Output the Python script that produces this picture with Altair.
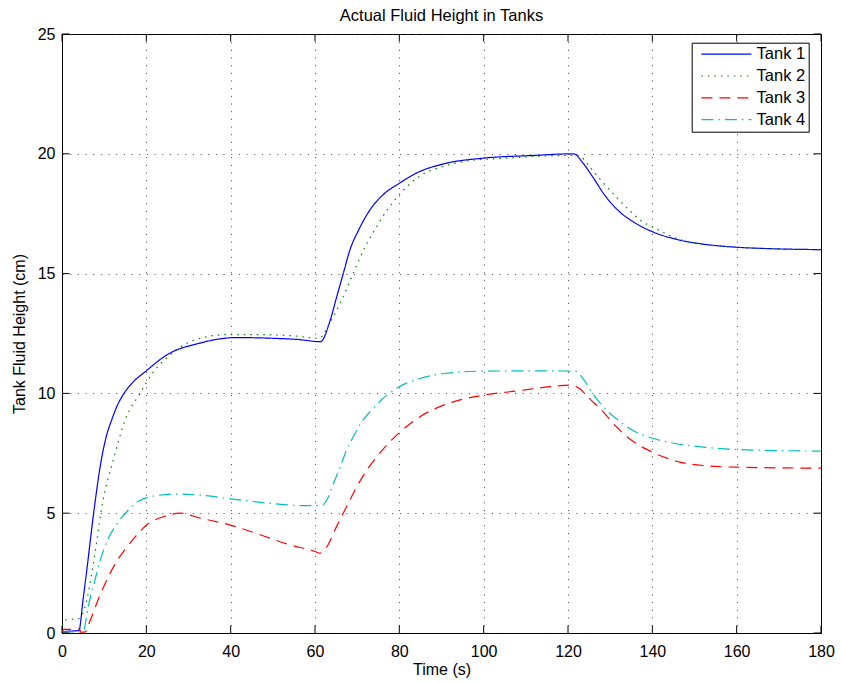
import altair as alt
import pandas as pd

# ---- data ----
series_names = ["Tank 1", "Tank 2", "Tank 3", "Tank 4"]

tank1_t = [0, 2, 4, 5, 6, 7.5, 9.4, 10.5, 11.8, 13, 14.7, 17, 19.7, 24.8, 32.7, 41.4, 50, 56, 61.3,
           63.6, 65.1, 66.7, 68.3, 70.3, 73, 76.2, 80, 84.1, 90.5, 100, 111.7, 121.3,
           123.6, 126, 128.4, 131.5, 135.4, 140, 145.7, 152, 160, 168, 180]
tank1_v = [0.05, 0.08, 0.1, 1.4, 2.8, 5.0, 7.3, 8.2, 8.9, 9.45, 10.0, 10.5, 10.9, 11.6, 12.1, 12.33, 12.3, 12.25, 12.16,
           13.05, 14.0, 15.0, 16.0, 16.8, 17.65, 18.3, 18.77, 19.2, 19.58, 19.82, 19.93, 20.0,
           19.6, 19.0, 18.35, 17.7, 17.17, 16.75, 16.43, 16.23, 16.1, 16.04, 16.0]

tank2_t = [0, 1, 4, 5, 7.8, 9.2, 12.6, 15, 18.5, 21.7, 25.6, 31, 39, 47, 55, 61,
           63.2, 65.9, 68.7, 71.9, 74.6, 77.4, 81, 85.3, 90.4, 96.8, 103.9, 111.8, 119.7,
           122.4, 125.4, 127.8, 130.9, 134.5, 137.4, 140.6, 145.3, 153.6, 160, 168, 180]
tank2_v = [0.3, 0.55, 0.6, 0.85, 3.3, 5.0, 7.5, 8.9, 10.0, 10.9, 11.6, 12.2, 12.45, 12.45, 12.4, 12.3,
           12.84, 13.74, 14.86, 16.12, 16.96, 17.72, 18.49, 19.12, 19.47, 19.72, 19.8, 19.89, 19.93,
           19.93, 19.4, 18.9, 18.3, 17.65, 17.2, 16.9, 16.5, 16.2, 16.1, 16.04, 16.0]

tank3_t = [0, 0.4, 4.2, 4.5, 5.6, 6.2, 8.6, 11, 13, 15, 17.3, 20, 24, 28, 32.7, 40, 47, 53.3, 60, 61.2,
           62.8, 65.1, 67.5, 69.9, 72.3, 75, 77.8, 80, 84.9, 90.5, 100, 107.8, 115.7, 120.8,
           122.7, 125.1, 128.4, 131.5, 135.4, 140, 145.7, 152, 160, 180]
tank3_v = [0.02, 0.15, 0.15, 0.03, 0.05, 0.3, 1.4, 2.35, 3.0, 3.5, 4.0, 4.5, 4.85, 5.0, 4.8, 4.5, 4.1, 3.72, 3.4, 3.33,
           3.6, 4.44, 5.28, 6.1, 6.8, 7.43, 7.99, 8.36, 9.03, 9.51, 9.93, 10.1, 10.28, 10.35,
           10.2, 9.78, 9.22, 8.6, 8.0, 7.55, 7.17, 6.99, 6.92, 6.88]

tank4_t = [0, 5, 6.2, 7.8, 9, 11, 13, 15.3, 18.1, 23, 27, 33, 40, 50, 57, 61.6,
           62.8, 64.4, 66, 67.5, 69.1, 71.1, 73.4, 76.2, 80, 84.9, 90.5, 100, 111.7, 121.7,
           123.6, 126, 128.4, 131.5, 135.4, 140, 145.7, 152, 160, 180]
tank4_v = [0.05, 0.05, 1.1, 2.2, 3.0, 3.95, 4.55, 5.05, 5.5, 5.75, 5.8, 5.75, 5.6, 5.4, 5.32, 5.32,
           5.55, 6.25, 6.94, 7.64, 8.2, 8.82, 9.3, 9.8, 10.28, 10.62, 10.83, 10.93, 10.94, 10.93,
           10.61, 9.96, 9.43, 8.94, 8.45, 8.13, 7.9, 7.76, 7.66, 7.59]

x_ticks = [0, 20, 40, 60, 80, 100, 120, 140, 160, 180]
y_ticks = [0, 5, 10, 15, 20, 25]

# ---- styles ----
series_colors = ["#0000FF", "#008000", "#FF0000", "#00BFBF"]
series_dashes = [[1, 0], [1.5, 5], [11, 7], [12, 5, 1.5, 5]]
FONT = "Liberation Sans"
W, H = 759, 599
TICK = 7.5

rows = []
for name, ts, vs in zip(series_names, [tank1_t, tank2_t, tank3_t, tank4_t],
                        [tank1_v, tank2_v, tank3_v, tank4_v]):
    for t, v in zip(ts, vs):
        rows.append({"series": name, "t": t, "v": v})
df = pd.DataFrame(rows)

x_scale = alt.Scale(domain=[0, 180], nice=False, zero=False)
y_scale = alt.Scale(domain=[0, 25], nice=False, zero=False)

x_axis = alt.Axis(values=x_ticks, title="Time (s)", grid=True, ticks=False, tickSize=0,
                  labelPadding=10, titlePadding=2, format="d", labelFlush=False, labelOverlap=False)
y_axis = alt.Axis(values=y_ticks, title="Tank Fluid Height (cm)", grid=True, ticks=False, tickSize=0,
                  labelPadding=7, titlePadding=10, format="d", labelFlush=False, labelOverlap=False)

leg = alt.Legend(title=None, orient="none", legendX=629.7, legendY=8.7,
                 symbolType="M-3.333,0H3.333", symbolSize=225, symbolStrokeWidth=1.2,
                 symbolOffset=23.2, labelOffset=21.7, labelFontSize=16.5, labelFont=FONT,
                 labelColor="black", padding=3, rowPadding=4.8, strokeColor="black",
                 fillColor="white", labelExpr="datum.label + '  '")

lines = alt.Chart(df).mark_line(strokeWidth=1.2, interpolate="monotone", clip=True).encode(
    x=alt.X("t:Q", scale=x_scale, axis=x_axis),
    y=alt.Y("v:Q", scale=y_scale, axis=y_axis),
    color=alt.Color("series:N", scale=alt.Scale(domain=series_names, range=series_colors), legend=leg),
    strokeDash=alt.StrokeDash("series:N", scale=alt.Scale(domain=series_names, range=series_dashes), legend=leg),
)

xt = pd.DataFrame({"t": x_ticks})
yt = pd.DataFrame({"v": y_ticks})
bottom_ticks = alt.Chart(xt).mark_rule(color="black", strokeWidth=1).encode(
    x=alt.X("t:Q", scale=x_scale, axis=x_axis), y=alt.value(H), y2=alt.value(H - TICK))
top_ticks = alt.Chart(xt).mark_rule(color="black", strokeWidth=1).encode(
    x=alt.X("t:Q", scale=x_scale, axis=x_axis), y=alt.value(0), y2=alt.value(TICK))
left_ticks = alt.Chart(yt).mark_rule(color="black", strokeWidth=1).encode(
    y=alt.Y("v:Q", scale=y_scale, axis=y_axis), x=alt.value(0), x2=alt.value(TICK))
right_ticks = alt.Chart(yt).mark_rule(color="black", strokeWidth=1).encode(
    y=alt.Y("v:Q", scale=y_scale, axis=y_axis), x=alt.value(W), x2=alt.value(W - TICK))

chart = alt.layer(lines, bottom_ticks, top_ticks, left_ticks, right_ticks).properties(
    width=W, height=H,
    title=alt.TitleParams("Actual Fluid Height in Tanks", fontSize=16.5, fontWeight="normal",
                          font=FONT, color="black", anchor="middle", frame="group",
                          baseline="bottom", offset=10, dy=24),
    padding={"left": 62, "top": 34, "right": 20, "bottom": 50},
    autosize=alt.AutoSizeParams(type="none"),
    background="white",
).configure_view(
    stroke="black", strokeWidth=1
).configure_axis(
    domainColor="black", domainWidth=1, gridColor="#333333", gridDash=[1, 6.67], gridWidth=1,
    gridOpacity=0.9, labelFont=FONT, labelFontSize=16, labelColor="black",
    titleFont=FONT, titleFontSize=16, titleFontWeight="normal", titleColor="black",
)

chart.save("out.html", embed_options={"renderer": "svg", "actions": False})
